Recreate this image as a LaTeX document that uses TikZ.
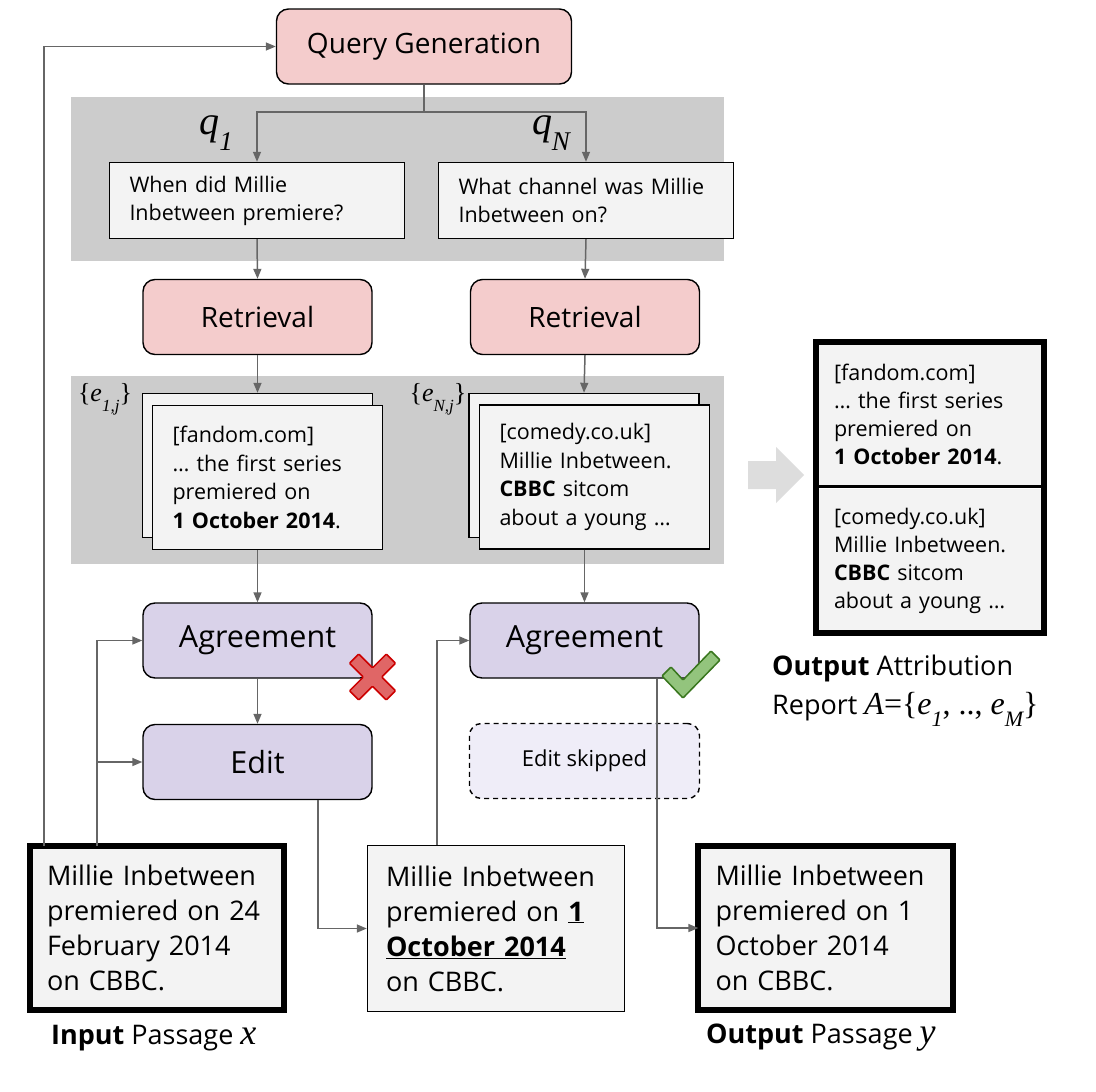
\documentclass[tikz,border=0pt]{standalone}
\usepackage{fontspec}
\setmainfont{Open Sans}
\newfontfamily\timesfam{Liberation Serif}
\usetikzlibrary{arrows.meta}
\definecolor{pinkC}{HTML}{F4CCCC}
\definecolor{purpC}{HTML}{D9D2E9}
\definecolor{boxC}{HTML}{F3F3F3}
\definecolor{bandC}{HTML}{CCCCCC}
\definecolor{lineC}{HTML}{666666}
\definecolor{skipC}{HTML}{EFEDF8}
\definecolor{redF}{HTML}{E06666}
\definecolor{redD}{HTML}{CC0000}
\definecolor{grnF}{HTML}{93C47D}
\definecolor{grnD}{HTML}{38761D}
\definecolor{fatC}{HTML}{DDDDDD}
\newcommand\lowsub[2]{\raisebox{-0.38em}{\fontsize{#1}{#1}\selectfont #2}}
\newcommand\tmi[1]{{\timesfam\itshape #1}}
\newcommand\tmr[1]{{\timesfam #1}}
\begin{document}
\begin{tikzpicture}[x=1pt,y=-1pt,
  stage/.style={draw=black, line width=1.4pt, rounded corners=12pt,
    minimum width=229pt, minimum height=75pt, inner sep=0pt},
  pinkstage/.style={stage, fill=pinkC, font=\fontsize{28}{30}\selectfont},
  purpstage/.style={stage, fill=purpC, font=\fontsize{30.5}{32}\selectfont},
  qbox/.style={draw=black, line width=1.4pt, fill=boxC, minimum width=295pt,
    minimum height=76pt, inner xsep=20pt, inner ysep=0pt, text width=255pt,
    align=left, font=\fontsize{21.5}{28}\selectfont},
  card/.style={draw=black, line width=1.4pt, fill=boxC, minimum width=230pt,
    minimum height=144pt, inner xsep=20pt, inner ysep=0pt, text width=190pt,
    align=left, font=\fontsize{21.5}{28.5}\selectfont},
  passage/.style={fill=boxC, minimum width=254pt, minimum height=164pt,
    inner xsep=17pt, inner ysep=0pt, text width=220pt, align=left,
    font=\fontsize{27}{35}\selectfont},
  thickframe/.style={draw=black, line width=6pt},
  attcell/.style={fill=boxC, minimum width=228pt, minimum height=144pt,
    inner xsep=18pt, inner ysep=0pt, text width=192pt, align=left,
    font=\fontsize{21.5}{28}\selectfont},
  conn/.style={draw=lineC, line width=1.5pt, -{Triangle[length=10pt,width=8pt]}},
  plain/.style={draw=lineC, line width=1.5pt},
  lbl/.style={inner sep=0pt, font=\fontsize{27}{40}\selectfont, align=left}
]
\useasboundingbox (0,0) rectangle (1096,1092);

% gray bands
\fill[bandC] (71,97) rectangle (724,261);
\fill[bandC] (71,376) rectangle (724,564);

% stage nodes
\node[pinkstage, minimum width=295pt] (qg) at (424,46.5) {Query Generation};
\node[qbox] (qb1) at (257,200.5) {When did Millie\\Inbetween premiere?};
\node[qbox] (qb2) at (586,200.5) {What channel was Millie\\Inbetween on?};
\node[pinkstage] (ret1) at (257.5,317) {Retrieval};
\node[pinkstage] (ret2) at (585,317) {Retrieval};

% evidence cards
\node[card] (back1) at (257.5,465.5) {};
\node[card] (front1) at (267.5,477.5) {[fandom.com]\\\dots{} the first series\\premiered on\\\textbf{1 October 2014}.};
\node[card] (back2) at (584,465.5) {};
\node[card] (front2) at (594.5,477) {[comedy.co.uk]\\Millie Inbetween.\\\textbf{CBBC} sitcom\\about a young \dots};

% labels q and e
\node[inner sep=0pt, font=\fontsize{40}{40}\selectfont] (lq1) at (216,133) {\tmi{q\lowsub{27}{1}}};
\node[inner sep=0pt, font=\fontsize{40}{40}\selectfont] (lqn) at (551,133) {\tmi{q\lowsub{27}{N}}};
\node[inner sep=0pt, font=\fontsize{26}{26}\selectfont] (le1) at (105,399) {\tmr{\{}\tmi{e\lowsub{17}{1,j}}\tmr{\}}};
\node[inner sep=0pt, font=\fontsize{26}{26}\selectfont] (len) at (438,399) {\tmr{\{}\tmi{e\lowsub{17}{N,j}}\tmr{\}}};

\node[purpstage] (agr1) at (257.5,640.5) {Agreement};
\node[purpstage] (agr2) at (584.5,640.5) {Agreement};
\node[purpstage] (edit) at (257.5,762) {Edit};
\node[draw=black, line width=1.4pt, dashed, dash pattern=on 5pt off 4pt, fill=skipC,
  rounded corners=12pt, minimum width=230pt, minimum height=75pt,
  font=\fontsize{22}{24}\selectfont] (skip) at (584.5,761) {Edit skipped};

% passages
\node[passage] (inp) at (157,928) {Millie Inbetween\\premiered on 24\\February 2014\\on CBBC.};
\draw[thickframe] (inp.north west) rectangle (inp.south east);
\node[passage, draw=black, line width=1.4pt, minimum width=257pt, minimum height=166pt] (mid) at (496,928.5)
  {Millie Inbetween\\premiered on \underline{\textbf{1}}\\\underline{\textbf{October 2014}}\\on CBBC.};
\node[passage] (out) at (825.5,928) {Millie Inbetween\\premiered on 1\\October 2014\\on CBBC.};
\draw[thickframe] (out.north west) rectangle (out.south east);

\node[lbl, anchor=west] (inlbl) at (51,1038) {\textbf{Input} Passage \tmi{\fontsize{36}{36}\selectfont x}};
\node[lbl, anchor=west] (outlbl) at (706,1038) {\textbf{Output} Passage \tmi{\fontsize{36}{36}\selectfont y}};

% attribution report
\node[attcell] (attop) at (930,414.5) {[fandom.com]\\\dots{} the first series\\premiered on\\\textbf{1 October 2014}.};
\node[attcell] (atbot) at (930,560.5) {[comedy.co.uk]\\Millie Inbetween.\\\textbf{CBBC} sitcom\\about a young \dots};
\draw[thickframe] (attop.north west) rectangle (atbot.south east);
\draw[black, line width=3pt] (attop.south west) -- (attop.south east);
\node[lbl, anchor=west] (attlbl1) at (772,668) {\textbf{Output} Attribution};
\node[lbl, anchor=west] (attlbl2) at (772,709) {Report {\fontsize{32}{32}\selectfont\tmi{A}\tmr{=\{}\tmi{e\lowsub{22}{1}}\tmr{, .., }\tmi{e\lowsub{22}{M}}\tmr{\}}}};

% fat arrow
\fill[fatC] (748,461) -- (776,461) -- (776,447) -- (804,475) -- (776,503) -- (776,489) -- (748,489) -- cycle;

% connectors
\draw[plain] (qg.south) -- (424,112) coordinate (split);
\draw[conn] (split) -| (qb1.north);
\draw[conn] (split) -| (qb2.north);
\draw[conn] (qb1.south) -- (ret1.north);
\draw[conn] (qb2.south) -- (ret2.north);
\draw[conn] (ret1.south) -- (back1.north);
\draw[conn] (ret2.south) -- (back2.north);
\draw[conn] (agr1.north |- front1.south) -- (agr1.north);
\draw[conn] (agr2.north |- front2.south) -- (agr2.north);
\draw[conn] (agr1.south) -- (edit.north);
\draw[conn] ([xshift=14pt]inp.north west) |- (qg.west);
\draw[conn] ([xshift=67pt]inp.north west) |- (agr1.west);
\draw[conn] ([xshift=67pt]inp.north west) |- (edit.west);
\draw[conn] ([xshift=60.5pt]edit.south) |- (mid.west);
\draw[conn] ([xshift=-59pt]mid.north) |- (agr2.west);
\draw[conn] ([xshift=72.5pt]agr2.south) |- (out.west);

% red cross
\begin{scope}[shift={(372.5,677)}, rotate=45]
\filldraw[fill=redF, draw=redD, line width=1.5pt, rounded corners=1pt]
  (6.5,-26) -- (6.5,-6.5) -- (26,-6.5) -- (26,6.5) -- (6.5,6.5) -- (6.5,26)
  -- (-6.5,26) -- (-6.5,6.5) -- (-26,6.5) -- (-26,-6.5) -- (-6.5,-6.5) -- (-6.5,-26) -- cycle;
\end{scope}
% green check
\filldraw[fill=grnF, draw=grnD, line width=1.5pt, rounded corners=1pt]
  (662,676) -- (671,667) -- (683,680) -- (711,651) -- (720,660) -- (683,698) -- cycle;
\end{tikzpicture}
\end{document}
